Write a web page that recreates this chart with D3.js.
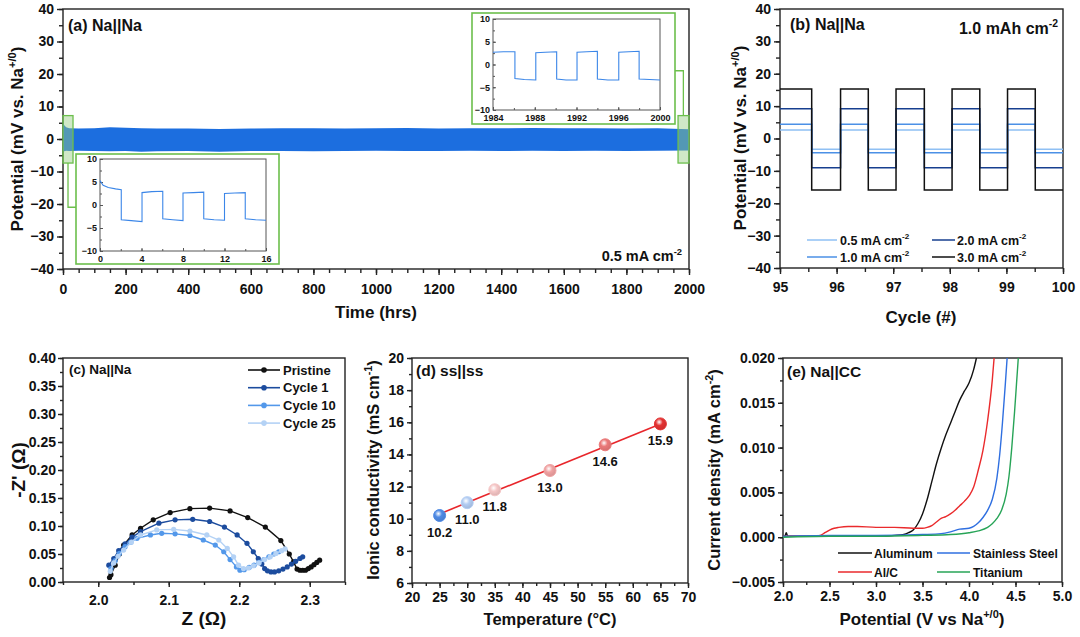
<!DOCTYPE html>
<html>
<head>
<meta charset="utf-8">
<script src="https://cdn.jsdelivr.net/npm/d3@7"></script>
<style>
  body { margin: 0; background: #fff; }
  svg { display: block; }
  text { font-family: 'Liberation Sans', Arial, sans-serif; font-weight: bold; fill: #111; }
</style>
</head>
<body>
<div id="fig"></div>
<script>
// ---------- data ----------

// (a) long-term cycling, envelope of the dense square wave
let bandT  = [0, 4, 10, 20, 50, 100, 150, 200, 250, 300, 400, 500, 600, 700, 800, 900, 1000, 1100, 1200, 1300, 1400, 1500, 1600, 1700, 1800, 1900, 2000];
let bandHi = [5.0, 4.2, 3.6, 3.3, 3.2, 3.3, 3.6, 3.5, 3.3, 3.2, 3.2, 3.1, 3.2, 3.3, 3.3, 3.2, 3.3, 3.4, 3.2, 3.3, 3.3, 3.4, 3.3, 3.3, 3.2, 3.3, 3.0];
let bandLo = [-3.6, -3.8, -3.6, -3.7, -3.6, -3.7, -3.8, -3.7, -3.9, -3.8, -3.7, -3.9, -3.7, -3.7, -3.8, -3.7, -3.6, -3.7, -3.7, -3.6, -3.7, -3.6, -3.7, -3.6, -3.7, -3.6, -3.5];

// (a) insets: first 16 h and last 16 h
let inset1T = [0, 0.3, 0.8, 1.5, 2.05, 2.05, 3.0, 4.05, 4.05, 5.0, 6.05, 6.05, 7.0, 8.0, 8.0, 9.0, 10.0, 10.0, 11.0, 12.0, 12.0, 13.0, 14.0, 14.0, 15.0, 16.0];
let inset1V = [5.3, 4.3, 3.8, 3.5, 3.3, -3.2, -3.4, -3.6, 2.7, 2.9, 3.0, -3.0, -3.2, -3.4, 2.6, 2.7, 2.8, -3.0, -3.2, -3.3, 2.5, 2.6, 2.7, -3.0, -3.2, -3.3];
let inset2T = [1984, 1985, 1986.1, 1986.1, 1987, 1988.1, 1988.1, 1989, 1990.1, 1990.1, 1991, 1992.05, 1992.05, 1993, 1994, 1994, 1995, 1996.05, 1996.05, 1997, 1998, 1998, 1999, 2000];
let inset2V = [2.7, 2.8, 2.8, -3.1, -3.3, -3.4, 2.6, 2.7, 2.8, -3.2, -3.4, -3.4, 2.7, 2.8, 2.9, -3.2, -3.4, -3.4, 2.7, 2.8, 2.9, -3.2, -3.3, -3.4];

// (b) rate test: half-cycle boundaries and plateau values
let bEdges = [95, 95.56, 96.07, 96.56, 97.05, 97.55, 98.04, 98.53, 99.02, 99.51, 100];
let bRates = ["0.5", "1.0", "2.0", "3.0"];
let bHigh  = [2.6, 4.4, 9.2, 15.3];
let bLow   = [-3.3, -4.4, -9.0, -15.9];

// (c) impedance
let cNames = ["Pristine", "Cycle 1", "Cycle 10", "Cycle 25"];
let cPristine = [[2.016,0.008],[2.018,0.013],[2.024,0.030],[2.030,0.050],[2.036,0.066],[2.048,0.084],[2.060,0.096],[2.078,0.111],[2.102,0.124],[2.130,0.131],[2.158,0.132],[2.187,0.127],[2.212,0.115],[2.237,0.098],[2.259,0.074],[2.271,0.050],[2.277,0.036],[2.282,0.023],[2.286,0.021],[2.290,0.021],[2.294,0.021],[2.298,0.024],[2.302,0.027],[2.306,0.031],[2.310,0.035],[2.314,0.039]];
let cCycle1 = [[2.015,0.030],[2.022,0.042],[2.029,0.056],[2.038,0.068],[2.048,0.080],[2.060,0.090],[2.086,0.105],[2.109,0.111],[2.134,0.112],[2.158,0.108],[2.179,0.098],[2.197,0.084],[2.211,0.069],[2.220,0.054],[2.227,0.042],[2.232,0.032],[2.236,0.024],[2.240,0.020],[2.245,0.018],[2.250,0.018],[2.256,0.020],[2.262,0.023],[2.268,0.027],[2.274,0.032],[2.280,0.037],[2.286,0.042],[2.290,0.045]];
let cCycle10 = [[2.018,0.024],[2.024,0.038],[2.030,0.051],[2.038,0.063],[2.046,0.071],[2.055,0.078],[2.074,0.084],[2.090,0.087],[2.109,0.086],[2.130,0.083],[2.149,0.075],[2.166,0.066],[2.178,0.054],[2.187,0.040],[2.196,0.027],[2.201,0.021],[2.207,0.022],[2.214,0.026],[2.221,0.030],[2.228,0.035],[2.235,0.040],[2.242,0.045],[2.249,0.050],[2.256,0.054]];
let cCycle25 = [[2.017,0.019],[2.022,0.034],[2.028,0.046],[2.036,0.057],[2.047,0.071],[2.060,0.084],[2.083,0.093],[2.107,0.094],[2.130,0.091],[2.154,0.084],[2.171,0.075],[2.183,0.060],[2.192,0.045],[2.199,0.030],[2.206,0.024],[2.213,0.025],[2.220,0.029],[2.228,0.034],[2.236,0.040],[2.244,0.045],[2.252,0.051],[2.260,0.056],[2.265,0.059]];

// (d) ionic conductivity
let dTemp = [25, 30, 35, 45, 55, 65];
let dCond = [10.2, 11.0, 11.8, 13.0, 14.6, 15.9];
let dFitT = [25, 65];
let dFitC = [10.3, 15.9];

// (e) LSV
let eNames = ["Aluminum", "Al/C", "Stainless Steel", "Titanium"];
let eAlX  = [2.0, 2.02, 2.035, 2.05, 2.5, 3.0, 3.2, 3.3, 3.35, 3.4, 3.45, 3.5, 3.55, 3.6, 3.65, 3.7, 3.75, 3.8, 3.85, 3.9, 3.95, 4.0, 4.05, 4.08];
let eAlY  = [0.0001, 0.0001, 0.0005, 0.0001, 0.0001, 0.0001, 0.0002, 0.0003, 0.0005, 0.0008, 0.0015, 0.0026, 0.0042, 0.0062, 0.0082, 0.0099, 0.0114, 0.0127, 0.0140, 0.0153, 0.0163, 0.0172, 0.0187, 0.0200];
let eAlCX = [2.0, 2.3, 2.4, 2.45, 2.5, 2.55, 2.6, 2.7, 2.8, 3.0, 3.2, 3.4, 3.5, 3.55, 3.6, 3.65, 3.7, 3.75, 3.8, 3.85, 3.9, 3.95, 4.0, 4.05, 4.1, 4.15, 4.2, 4.25, 4.27];
let eAlCY = [0.0001, 0.0001, 0.0002, 0.0005, 0.0008, 0.0010, 0.0011, 0.0012, 0.0012, 0.0011, 0.0011, 0.0010, 0.0010, 0.0011, 0.0013, 0.0017, 0.0021, 0.0023, 0.0026, 0.0030, 0.0035, 0.0040, 0.0046, 0.0056, 0.0075, 0.0097, 0.0130, 0.0175, 0.0200];
let eSSX  = [2.0, 2.5, 3.0, 3.5, 3.7, 3.8, 3.9, 4.0, 4.05, 4.1, 4.15, 4.2, 4.25, 4.3, 4.33, 4.36, 4.39, 4.41];
let eSSY  = [0.0001, 0.0002, 0.0002, 0.0003, 0.0004, 0.0006, 0.0009, 0.0010, 0.0012, 0.0016, 0.0022, 0.0030, 0.0042, 0.0066, 0.0092, 0.0128, 0.0170, 0.0200];
let eTiX  = [2.0, 2.5, 3.0, 3.5, 3.8, 4.0, 4.1, 4.2, 4.25, 4.3, 4.35, 4.4, 4.43, 4.46, 4.49, 4.51, 4.53];
let eTiY  = [0.0000, 0.0001, 0.0001, 0.0002, 0.0003, 0.0005, 0.0007, 0.0011, 0.0015, 0.0021, 0.0030, 0.0048, 0.0068, 0.0100, 0.0140, 0.0170, 0.0200];

// ---------- drawing ----------
const svg = d3.select("#fig").append("svg").attr("width", 1080).attr("height", 637);
svg.append("rect").attr("width", 1080).attr("height", 637).attr("fill", "#fff");

function range(a, b, s) { return d3.range(a, b + s / 2, s); }

// frame + major/minor ticks on bottom and left
function axes(x, y, o) {
    const g = svg.append("g");
    const dir = o.inward ? -1 : 1;
    const big = (o.tick || 6) * dir, small = (o.minor || 4) * dir;
    const [x0, x1] = x.range(), [y0, y1] = y.range();

    g.append("g").attr("transform", `translate(0,${y0})`)
        .call(d3.axisBottom(x).tickValues(o.xMinor).tickFormat("").tickSize(small));
    g.append("g").attr("transform", `translate(0,${y0})`)
        .call(d3.axisBottom(x).tickValues(o.xTicks).tickFormat(o.xFmt).tickSize(big).tickPadding(o.xPad));
    g.append("g").attr("transform", `translate(${x0},0)`)
        .call(d3.axisLeft(y).tickValues(o.yMinor).tickFormat("").tickSize(small));
    g.append("g").attr("transform", `translate(${x0},0)`)
        .call(d3.axisLeft(y).tickValues(o.yTicks).tickFormat(o.yFmt).tickSize(big).tickPadding(o.yPad));

    g.selectAll(".domain").remove();
    g.selectAll("g").attr("font-size", o.fs || 14).attr("font-family", null);
    g.selectAll(".tick line").attr("stroke", o.color || "#222").attr("stroke-width", o.sw || 1.4);
    g.append("rect").attr("x", x0).attr("y", y1).attr("width", x1 - x0).attr("height", y0 - y1)
        .attr("fill", "none").attr("stroke", o.color || "#222").attr("stroke-width", o.sw || 1.4);
    return g;
}

// text with superscripts: parts = ["plain", ["sup"], "plain"]
function rich(parts, x, y, o) {
    const fs = o.fs || 14;
    const t = svg.append("text").attr("font-size", fs).attr("text-anchor", o.anchor || "start");
    if (o.rotate) {
        t.attr("transform", `translate(${x},${y}) rotate(-90)`).attr("x", 0).attr("y", fs * 0.35);
    } else {
        t.attr("x", x).attr("y", y);
    }
    let up = false;
    parts.forEach(p => {
        const s = t.append("tspan");
        if (Array.isArray(p)) {
            s.text(p[0]).attr("font-size", fs * 0.65).attr("dy", -fs * 0.42);
            up = true;
        } else {
            s.text(p);
            if (up) { s.attr("dy", fs * 0.42); up = false; }
        }
    });
    return t;
}

const fmtInt = d3.format("d");

// ===== (a) =====
const ax = d3.scaleLinear().domain([0, 2000]).range([63, 689]);
const ay = d3.scaleLinear().domain([-40, 40]).range([269, 9]);
axes(ax, ay, {
    xTicks: range(0, 2000, 200), xMinor: range(0, 2000, 50), xFmt: fmtInt, xPad: 9,
    yTicks: range(-40, 40, 10), yMinor: range(-40, 40, 5), yFmt: fmtInt, yPad: 3
});
const bandColor = "#1c6edf";
svg.append("path")
    .datum(bandT.map((t, i) => [t, bandHi[i], bandLo[i]]))
    .attr("fill", bandColor)
    .attr("d", d3.area().x(d => ax(d[0])).y0(d => ay(d[2])).y1(d => ay(d[1])));

// highlighted windows + connectors
const green = "#6cbf4c";
const hlBoxes = [[0, 32], [1965, 2000]];
hlBoxes.forEach(b => {
    svg.append("rect").attr("x", ax(b[0])).attr("y", ay(7.2))
        .attr("width", ax(b[1]) - ax(b[0])).attr("height", ay(-7.4) - ay(7.2))
        .attr("fill", "rgba(150,205,130,0.45)").attr("stroke", green).attr("stroke-width", 1.3);
});
svg.append("path").attr("fill", "none").attr("stroke", green).attr("stroke-width", 1.3)
    .attr("d", `M${ax(16)},${ay(-7.4)} V${ay(-21)} H76`);
svg.append("path").attr("fill", "none").attr("stroke", green).attr("stroke-width", 1.3)
    .attr("d", `M675,${ay(21)} H${ax(1982)} V${ay(7.2)}`);

function inset(box, x, y, xTicks, tArr, vArr) {
    svg.append("rect").attr("x", box[0]).attr("y", box[1]).attr("width", box[2] - box[0]).attr("height", box[3] - box[1])
        .attr("fill", "#fff").attr("stroke", green).attr("stroke-width", 1.6);
    const step = (xTicks[1] - xTicks[0]) / 2;
    axes(x, y, {
        inward: true, tick: 3, minor: 2, fs: 9, color: "#555", sw: 1,
        xTicks: xTicks, xMinor: range(xTicks[0], xTicks[xTicks.length - 1], step), xFmt: fmtInt, xPad: 5,
        yTicks: range(-10, 10, 5), yMinor: range(-10, 10, 2.5), yFmt: fmtInt, yPad: 3
    });
    svg.append("path").datum(tArr.map((t, i) => [t, vArr[i]]))
        .attr("fill", "none").attr("stroke", "#3b86e8").attr("stroke-width", 1.1)
        .attr("d", d3.line().x(d => x(d[0])).y(d => y(d[1])));
}
inset([76, 154, 279, 264],
    d3.scaleLinear().domain([0, 16]).range([100, 266]),
    d3.scaleLinear().domain([-10, 10]).range([251, 159]),
    [0, 4, 8, 12, 16], inset1T, inset1V);
inset([472, 13, 675, 124],
    d3.scaleLinear().domain([1984, 2000]).range([493, 660]),
    d3.scaleLinear().domain([-10, 10]).range([110, 19]),
    [1984, 1988, 1992, 1996, 2000], inset2T, inset2V);

rich(["(a) Na||Na"], 68, 31, { fs: 16 });
rich(["0.5 mA cm", ["-2"]], 682, 261, { fs: 14.5, anchor: "end" });
rich(["Time (hrs)"], 376, 318, { fs: 17, anchor: "middle" });
rich(["Potential (mV vs. Na", ["+/0"], ")"], 17, 139, { fs: 17, anchor: "middle", rotate: true });

// ===== (b) =====
const bx = d3.scaleLinear().domain([95, 100]).range([780, 1063]);
const by = d3.scaleLinear().domain([-40, 40]).range([268, 9]);
axes(bx, by, {
    xTicks: range(95, 100, 1), xMinor: range(95, 100, 0.5), xFmt: fmtInt, xPad: 8,
    yTicks: range(-40, 40, 10), yMinor: range(-40, 40, 5), yFmt: fmtInt, yPad: 3
});
const bColors = ["#8fc0f4", "#4b90e6", "#173f8f", "#111111"];
bRates.forEach((r, k) => {
    const pts = bEdges.map((e, i) => [e, i % 2 === 0 ? bHigh[k] : bLow[k]]);
    pts[pts.length - 1][1] = pts[pts.length - 2][1];
    svg.append("path").datum(pts)
        .attr("fill", "none").attr("stroke", bColors[k]).attr("stroke-width", 1.5)
        .attr("d", d3.line().curve(d3.curveStepAfter).x(d => bx(d[0])).y(d => by(d[1])));
});
const bLeg = [[807, 837, 840, 240], [807, 837, 840, 257], [932, 955, 957, 240], [932, 955, 957, 257]];
bRates.forEach((r, k) => {
    const p = bLeg[k];
    svg.append("line").attr("x1", p[0]).attr("x2", p[1]).attr("y1", p[3]).attr("y2", p[3])
        .attr("stroke", bColors[k]).attr("stroke-width", 1.5);
    rich([r + " mA cm", ["-2"]], p[2], p[3] + 4.5, { fs: 12.5 });
});
rich(["(b) Na||Na"], 790, 30, { fs: 16 });
rich(["1.0 mAh cm", ["-2"]], 1058, 34, { fs: 16, anchor: "end" });
rich(["Cycle (#)"], 921, 323, { fs: 17, anchor: "middle" });
rich(["Potential (mV vs. Na", ["+/0"], ")"], 740, 138, { fs: 17, anchor: "middle", rotate: true });

// ===== (c) =====
const cx = d3.scaleLinear().domain([1.95, 2.35]).range([63, 345]);
const cy = d3.scaleLinear().domain([0, 0.40]).range([582, 358]);
axes(cx, cy, {
    xTicks: range(2.0, 2.3, 0.1), xMinor: range(1.95, 2.35, 0.05), xFmt: d3.format(".1f"), xPad: 8,
    yTicks: range(0, 0.40, 0.05), yMinor: range(0, 0.40, 0.025), yFmt: d3.format(".2f"), yPad: 2, tick: 5, minor: 3
});
const cSeries = [cPristine, cCycle1, cCycle10, cCycle25];
const cColors = ["#111111", "#1c4c9e", "#5398ea", "#b4d2f5"];
cSeries.forEach((s, k) => {
    svg.append("path").datum(s).attr("fill", "none").attr("stroke", cColors[k]).attr("stroke-width", 1.4)
        .attr("d", d3.line().x(d => cx(d[0])).y(d => cy(d[1])));
    svg.append("g").selectAll("circle").data(s).join("circle")
        .attr("cx", d => cx(d[0])).attr("cy", d => cy(d[1])).attr("r", 2.6).attr("fill", cColors[k]);
});
cNames.forEach((n, k) => {
    const yy = 370 + k * 17.7;
    svg.append("line").attr("x1", 248).attr("x2", 280).attr("y1", yy).attr("y2", yy)
        .attr("stroke", cColors[k]).attr("stroke-width", 1.6);
    svg.append("circle").attr("cx", 264).attr("cy", yy).attr("r", 2.8).attr("fill", cColors[k]);
    rich([n], 283, yy + 4.5, { fs: 13 });
});
rich(["(c) Na||Na"], 69, 374, { fs: 13.5 });
rich(["Z (\u03A9)"], 204, 625, { fs: 19, anchor: "middle" });
rich(["-Z' (\u03A9)"], 18, 470, { fs: 19, anchor: "middle", rotate: true });

// ===== (d) =====
const dx = d3.scaleLinear().domain([20, 70]).range([412, 688]);
const dy = d3.scaleLinear().domain([6, 20]).range([583, 358]);
axes(dx, dy, {
    xTicks: range(20, 70, 5), xMinor: range(20, 70, 2.5), xFmt: fmtInt, xPad: 4,
    yTicks: range(6, 20, 2), yMinor: range(6, 20, 1), yFmt: fmtInt, yPad: 3, tick: 5, minor: 3
});
svg.append("path").datum(dFitT.map((t, i) => [t, dFitC[i]]))
    .attr("fill", "none").attr("stroke", "#e8262b").attr("stroke-width", 1.6)
    .attr("d", d3.line().x(d => dx(d[0])).y(d => dy(d[1])));
const dColors = ["#4f8ae4", "#b3cdf3", "#f5c6c6", "#f0a2a2", "#eb7a7a", "#e33232"];
const defs = svg.append("defs");
dColors.forEach((c, i) => {
    const gr = defs.append("radialGradient").attr("id", "dg" + i).attr("cx", "40%").attr("cy", "35%").attr("r", "65%");
    gr.append("stop").attr("offset", "0%").attr("stop-color", "#fff");
    gr.append("stop").attr("offset", "45%").attr("stop-color", c);
    gr.append("stop").attr("offset", "100%").attr("stop-color", d3.color(c).darker(0.3));
});
svg.append("g").selectAll("circle").data(dTemp).join("circle")
    .attr("cx", d => dx(d)).attr("cy", (d, i) => dy(dCond[i])).attr("r", 6)
    .attr("fill", (d, i) => `url(#dg${i})`).attr("stroke", (d, i) => dColors[i]).attr("stroke-width", 1);
svg.append("g").selectAll("text").data(dTemp).join("text")
    .attr("x", d => dx(d)).attr("y", (d, i) => dy(dCond[i]) + 21)
    .attr("text-anchor", "middle").attr("font-size", 13)
    .text((d, i) => d3.format(".1f")(dCond[i]));
rich(["(d) ss||ss"], 416, 376, { fs: 15.5 });
rich(["Temperature (\u00B0C)"], 550, 625, { fs: 16.5, anchor: "middle" });
rich(["Ionic conductivity (mS cm", ["-1"], ")"], 373, 470, { fs: 16.5, anchor: "middle", rotate: true });

// ===== (e) =====
const ex = d3.scaleLinear().domain([2, 5]).range([783, 1062]);
const ey = d3.scaleLinear().domain([-0.005, 0.020]).range([582, 358]);
axes(ex, ey, {
    xTicks: range(2, 5, 0.5), xMinor: range(2, 5, 0.25), xFmt: d3.format(".1f"), xPad: 4,
    yTicks: range(-0.005, 0.020, 0.005), yMinor: range(-0.005, 0.020, 0.0025), yFmt: d3.format(".3f"), yPad: 3, tick: 5, minor: 3
});
const eSeries = [[eAlX, eAlY], [eAlCX, eAlCY], [eSSX, eSSY], [eTiX, eTiY]];
const eColors = ["#111111", "#ea2a2c", "#2f6fe0", "#27a457"];
eSeries.forEach((s, k) => {
    svg.append("path").datum(s[0].map((v, i) => [v, s[1][i]]))
        .attr("fill", "none").attr("stroke", eColors[k]).attr("stroke-width", 1.4)
        .attr("d", d3.line().curve(d3.curveMonotoneX).x(d => ex(d[0])).y(d => ey(d[1])));
});
const eLeg = [[838, 872, 874, 553], [838, 872, 874, 572], [937, 970, 973, 553], [937, 970, 973, 572]];
eNames.forEach((n, k) => {
    const p = eLeg[k];
    svg.append("line").attr("x1", p[0]).attr("x2", p[1]).attr("y1", p[3]).attr("y2", p[3])
        .attr("stroke", eColors[k]).attr("stroke-width", 1.5);
    rich([n], p[2], p[3] + 4.5, { fs: 12 });
});
rich(["(e) Na||CC"], 787, 377, { fs: 15.5 });
rich(["Potential (V vs Na", ["+/0"], ")"], 922, 625, { fs: 17, anchor: "middle" });
rich(["Current density (mA cm", ["-2"], ")"], 714, 470, { fs: 16.5, anchor: "middle", rotate: true });
</script>
</body>
</html>
